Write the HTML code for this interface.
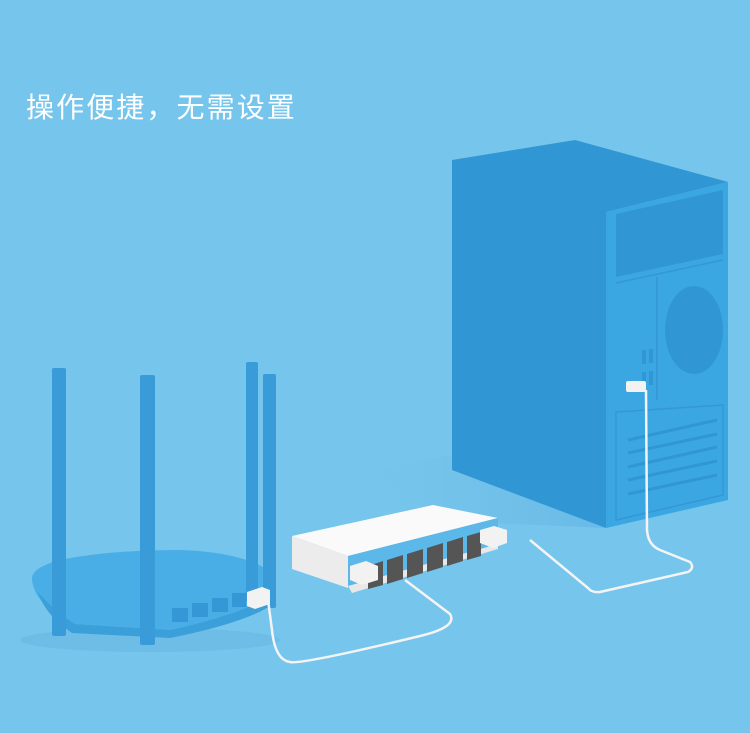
<!DOCTYPE html>
<html><head><meta charset="utf-8"><style>
html,body{margin:0;padding:0}
body{width:750px;height:733px;background:#76c5ec;position:relative;overflow:hidden}
.t{position:absolute;left:26px;top:86px;font:28px "Noto Sans CJK SC","WenQuanYi Zen Hei",sans-serif;color:#fff;letter-spacing:2.1px;white-space:nowrap}
svg{position:absolute;left:0;top:0}
</style></head><body>
<svg width="750" height="733" viewBox="0 0 750 733">
<defs><linearGradient id="sh" x1="0" y1="0" x2="1" y2="0"><stop offset="0" stop-color="#6cbbe6" stop-opacity="0"/><stop offset="1" stop-color="#5fb2e3"/></linearGradient></defs>
<polygon points="370,470 452,455 606,528 420,520" fill="url(#sh)" opacity="0.6"/>
<polygon points="452,160 575,140 728,182 606,212 606,528 452,470" fill="#3097d4"/>
<polygon points="606,212 728,182 728,500 606,528" fill="#3aa6e2"/>
<polygon points="616,214 723,190 723,254 616,277" fill="#3097d4"/>
<line x1="616" y1="283" x2="723" y2="260" stroke="#3597d6" stroke-width="1.5"/>
<line x1="657" y1="277" x2="657" y2="400" stroke="#3597d6" stroke-width="1.5"/>
<ellipse cx="694" cy="330" rx="29" ry="44" fill="#3097d4"/>
<rect x="642" y="350" width="4" height="14" fill="#3097d4"/><rect x="649" y="349" width="4" height="14" fill="#3097d4"/>
<rect x="642" y="372" width="4" height="14" fill="#3097d4"/><rect x="649" y="371" width="4" height="14" fill="#3097d4"/>
<polygon points="616,412 723,405 723,495 616,520" fill="none" stroke="#3597d6" stroke-width="1.5"/>
<g stroke="#3097d4" stroke-width="3">
<line x1="628" y1="440" x2="717" y2="420"/><line x1="628" y1="453" x2="717" y2="434"/><line x1="628" y1="467" x2="717" y2="447"/><line x1="628" y1="480" x2="717" y2="461"/><line x1="628" y1="494" x2="717" y2="475"/>
</g>
<path d="M646,390 L647,530 Q648,545 660,550 L690,562 Q695,568 688,572 L600,592 Q592,593 588,588 L530,540" fill="none" stroke="#f4f4f4" stroke-width="2.5"/>
<rect x="626" y="381" width="20" height="11" rx="2" fill="#f2f2f2"/>
<ellipse cx="150" cy="640" rx="130" ry="12" fill="#68b7e2" opacity="0.6"/>
<path d="M32,580 Q30,568 60,560 Q110,550 180,550 Q240,552 268,570 L276,592 Q250,612 170,630 L75,624 Q35,606 32,580Z" fill="#4aaee6"/>
<path d="M38,592 Q55,612 75,624 L170,630 Q250,612 276,592 L276,602 Q250,622 170,638 L72,633 Q45,615 38,592Z" fill="#3b9fda"/>
<g fill="#3597d6"><rect x="172" y="608" width="16" height="14"/><rect x="192" y="603" width="16" height="14"/><rect x="212" y="598" width="16" height="14"/><rect x="232" y="593" width="14" height="14"/></g>
<g fill="#3a9bd9">
<rect x="52" y="368" width="14" height="268" rx="2"/>
<rect x="140" y="375" width="15" height="270" rx="2"/>
<rect x="246" y="362" width="12" height="240" rx="2"/>
<rect x="263" y="374" width="13" height="234" rx="2"/>
</g>
<path d="M268,600 L272,630 Q275,660 290,662 Q300,665 420,636 Q458,627 450,614 L405,580" fill="none" stroke="#f4f4f4" stroke-width="2.5"/>
<polygon points="247,592 262,587 270,590 270,604 255,609 247,606" fill="#f2f2f2"/>
<polygon points="292,536 433,505 498,518 348,556" fill="#fafafa"/>
<polygon points="292,536 348,556 348,588 292,569" fill="#ececec"/>
<polygon points="348,556 498,518 498,546 348,588" fill="#5bb8e8"/>
<polygon points="348,586 498,544 498,549 352,593" fill="#e8e8e8"/>
<g fill="#555">
<polygon points="368,566 383,561 383,585 368,589"/>
<polygon points="387,560 403,555 403,579 387,584"/>
<polygon points="407,554 423,549 423,573 407,578"/>
<polygon points="427,548 443,543 443,567 427,572"/>
<polygon points="447,542 463,537 463,561 447,566"/>
<polygon points="467,536 481,532 481,556 467,560"/>
</g>
<polygon points="350,566 366,561 378,566 378,580 362,585 350,580" fill="#f2f2f2"/>
<polygon points="480,530 494,526 507,530 507,543 493,548 480,543" fill="#f2f2f2"/>
</svg>
<div class="t">操作便捷，无需设置</div>
</body></html>
